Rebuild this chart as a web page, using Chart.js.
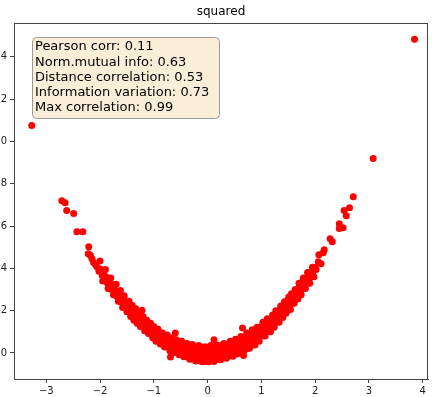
<!DOCTYPE html>
<html>
<head>
<meta charset="utf-8">
<script src="https://cdn.jsdelivr.net/npm/chart.js@4"></script>
<style>
    body { margin: 0; background: #fff; overflow: hidden; }
    #wrap { position: relative; width: 432px; height: 397px; overflow: hidden; }
    #chart { position: absolute; left: -20px; top: 0; }
</style>
</head>
<body>
<div id="wrap"><canvas id="chart" width="452" height="397"></canvas></div>
<script>
// squared: y ~ x^2 scatter

const chartTitle = 'squared';
const statLines = [
    'Pearson corr: 0.11',
    'Norm.mutual info: 0.63',
    'Distance correlation: 0.53',
    'Information variation: 0.73',
    'Max correlation: 0.99'
];
const xTicks = [-3, -2, -1, 0, 1, 2, 3, 4];
const yTicks = [0, 2, 4, 6, 8, 10, 12, 14];

// [x, y] pairs
const leftTail = [
    [-3.27, 10.76], [-2.71, 7.20], [-2.65, 7.10], [-2.62, 6.73], [-2.49, 6.59],
    [-2.43, 5.73], [-2.32, 5.73], [-2.21, 5.02], [-2.22, 4.69],
    [-2.18, 4.62], [-2.15, 4.45], [-2.12, 4.28], [-2.08, 4.15], [-2.05, 4.05], [-2.02, 3.86]
];

const leftArm = [
    [-1.98, 3.95], [-1.96, 3.66], [-1.93, 3.80], [-1.91, 3.45], [-1.88, 3.58], [-1.86, 3.30], [-1.83, 3.42], [-1.81, 3.10],
    [-1.79, 3.26], [-1.77, 2.98], [-1.75, 3.12], [-1.73, 2.80], [-1.71, 2.95], [-1.69, 2.68], [-1.67, 2.84], [-1.65, 2.55],
    [-1.63, 2.71], [-1.61, 2.42],
    [-1.59, 2.60], [-1.57, 2.30], [-1.56, 2.52], [-1.54, 2.20], [-1.52, 2.38], [-1.50, 2.10], [-1.49, 2.05], [-1.47, 2.28],
    [-1.45, 1.95], [-1.44, 2.12], [-1.42, 1.85], [-1.41, 2.05],
    [-1.39, 1.80], [-1.38, 1.98], [-1.36, 1.68], [-1.35, 1.90], [-1.33, 1.60], [-1.32, 1.82], [-1.30, 1.52], [-1.29, 1.75],
    [-1.27, 1.45], [-1.26, 1.68], [-1.24, 1.38], [-1.23, 1.60], [-1.22, 2.02], [-1.21, 1.30],
    [-1.19, 1.52], [-1.18, 1.22], [-1.16, 1.45], [-1.15, 1.15], [-1.14, 1.38], [-1.12, 1.08], [-1.11, 1.32], [-1.09, 1.02],
    [-1.08, 1.25], [-1.07, 0.95], [-1.05, 1.18], [-1.04, 0.88], [-1.03, 1.12], [-1.01, 0.82],
    [-0.99, 1.10], [-0.98, 0.78], [-0.97, 1.02], [-0.95, 0.70], [-0.94, 0.98], [-0.93, 0.62], [-0.91, 0.90], [-0.90, 0.58],
    [-0.89, 0.85], [-0.87, 0.55], [-0.86, 0.82], [-0.85, 0.50], [-0.83, 0.78], [-0.82, 0.45], [-0.81, 0.72]
];

const valley = [
    [-0.79, 0.40], [-0.78, 0.75], [-0.77, 0.35], [-0.76, 0.62], [-0.74, 0.30], [-0.73, 0.70], [-0.72, 0.48], [-0.71, 0.22],
    [-0.70, 0.58], [-0.69, -0.19], [-0.68, 0.30], [-0.67, 0.52], [-0.66, 0.18], [-0.65, 0.40], [-0.64, 0.62], [-0.63, 0.12],
    [-0.62, 0.32], [-0.61, 0.50], [-0.60, 0.95],
    [-0.59, 0.20], [-0.58, 0.45], [-0.57, 0.08], [-0.56, 0.30], [-0.55, 0.55], [-0.54, 0.02], [-0.53, 0.25], [-0.52, 0.45],
    [-0.51, -0.05], [-0.50, 0.15], [-0.49, 0.38], [-0.48, 0.00], [-0.47, 0.20], [-0.46, 0.42], [-0.45, -0.10], [-0.44, 0.12],
    [-0.43, 0.30], [-0.42, -0.02], [-0.41, 0.22],
    [-0.40, -0.15], [-0.39, 0.08], [-0.38, 0.32], [-0.37, -0.05], [-0.36, 0.18], [-0.35, -0.22], [-0.34, 0.02], [-0.33, 0.28],
    [-0.32, -0.12], [-0.31, 0.12], [-0.30, -0.28], [-0.29, 0.05], [-0.28, 0.25], [-0.27, -0.18], [-0.26, 0.00], [-0.25, 0.20],
    [-0.24, -0.30], [-0.23, -0.08], [-0.22, 0.15], [-0.21, -0.20],
    [-0.20, 0.05], [-0.19, -0.35], [-0.18, 0.22], [-0.17, -0.12], [-0.16, 0.02], [-0.15, -0.28], [-0.14, 0.15], [-0.13, -0.05],
    [-0.12, -0.38], [-0.11, 0.10], [-0.10, -0.20], [-0.09, 0.25], [-0.08, -0.02], [-0.07, -0.32], [-0.06, 0.08], [-0.05, -0.15],
    [-0.04, 0.18], [-0.03, -0.40], [-0.02, -0.08], [-0.01, 0.12],
    [0.00, -0.25], [0.01, 0.02], [0.02, 0.28], [0.03, -0.12], [0.04, -0.35], [0.05, 0.10], [0.06, -0.05], [0.07, 0.20],
    [0.08, -0.22], [0.09, 0.00], [0.10, -0.30], [0.11, 0.15], [0.12, 0.62], [0.13, -0.10], [0.14, 0.08], [0.15, -0.25],
    [0.16, 0.25], [0.17, -0.02], [0.18, -0.18], [0.19, 0.12],
    [0.20, -0.28], [0.21, 0.05], [0.22, 0.30], [0.23, -0.10], [0.24, 0.15], [0.25, -0.20], [0.26, 0.02], [0.27, 0.35],
    [0.28, -0.05], [0.29, -0.22], [0.30, 0.20], [0.31, 0.00], [0.32, -0.15], [0.33, 0.28], [0.34, 0.10], [0.35, -0.08],
    [0.36, 0.40], [0.37, -0.18], [0.38, 0.18], [0.39, 0.02],
    [0.40, 0.30], [0.41, -0.10], [0.42, 0.12], [0.43, 0.45], [0.44, -0.02], [0.45, 0.22], [0.46, -0.12], [0.47, 0.35],
    [0.48, 0.08], [0.49, 0.50], [0.50, 0.00], [0.51, 0.28], [0.52, 0.12], [0.53, 0.55], [0.54, -0.05], [0.55, 0.38],
    [0.56, 0.18], [0.57, 0.60], [0.58, 0.05], [0.59, 0.30],
    [0.60, 0.48], [0.61, 0.15], [0.62, 0.65], [0.63, 0.28], [0.64, 0.05], [0.65, 1.18], [0.66, 0.42], [0.67, -0.12],
    [0.68, 0.70], [0.69, 0.25], [0.70, 0.55], [0.71, 0.35], [0.72, 0.80], [0.73, 0.20], [0.74, 0.62], [0.75, 0.45],
    [0.76, 0.85], [0.77, 0.30], [0.78, 0.68], [0.79, 0.48]
];

const rightArm = [
    [0.80, 0.90], [0.81, 0.40], [0.82, 0.72], [0.83, 0.55], [0.84, 0.98], [0.85, 0.48], [0.86, 0.80], [0.87, 0.62],
    [0.88, 1.05], [0.89, 0.58], [0.90, 0.88], [0.91, 0.70], [0.93, 1.10], [0.94, 0.65], [0.95, 0.95], [0.97, 0.78],
    [0.98, 1.20], [0.99, 0.80],
    [1.00, 1.05], [1.01, 0.85], [1.02, 1.30], [1.04, 0.92], [1.05, 1.15], [1.06, 1.38], [1.08, 0.98], [1.09, 1.25],
    [1.10, 1.45], [1.12, 1.08], [1.13, 1.32], [1.15, 1.55], [1.16, 1.18], [1.18, 1.42], [1.19, 1.62],
    [1.20, 1.30], [1.22, 1.55], [1.23, 1.75], [1.25, 1.42], [1.26, 1.65], [1.28, 1.88], [1.29, 1.52], [1.31, 1.78],
    [1.32, 1.98], [1.34, 1.65], [1.35, 1.88], [1.37, 2.10], [1.38, 1.78], [1.39, 2.00],
    [1.41, 2.22], [1.42, 1.90], [1.44, 2.12], [1.45, 2.35], [1.47, 2.05], [1.48, 2.28], [1.50, 2.50], [1.52, 2.20],
    [1.53, 2.42], [1.55, 2.65], [1.57, 2.35], [1.58, 2.58],
    [1.60, 2.80], [1.62, 2.52], [1.64, 2.75], [1.65, 2.95], [1.67, 2.68], [1.69, 2.98], [1.71, 3.15], [1.73, 2.90],
    [1.75, 3.20], [1.77, 3.38],
    [1.79, 3.10], [1.81, 3.40], [1.83, 3.55], [1.85, 3.30], [1.87, 3.62], [1.89, 3.48], [1.91, 3.75], [1.93, 3.79],
    [1.96, 3.84], [2.00, 4.05], [2.02, 3.95]
];

// points sitting on the upper and lower edges of the band
const bandEdges = [
    [-2.00, 4.35], [-1.95, 3.40], [-1.90, 3.95], [-1.85, 3.05], [-1.80, 3.55], [-1.75, 2.75], [-1.70, 3.25], [-1.66, 2.45],
    [-1.62, 2.95], [-1.58, 2.15], [-1.55, 2.70], [-1.50, 1.95], [-1.46, 2.45], [-1.43, 1.72], [-1.40, 2.25], [-1.37, 1.55],
    [-1.34, 2.10], [-1.31, 1.40], [-1.28, 1.92], [-1.25, 1.25], [-1.20, 1.72], [-1.17, 1.05], [-1.13, 1.55], [-1.10, 0.92],
    [-1.06, 1.40], [-1.02, 0.72], [-1.00, 1.25], [-0.96, 0.55], [-0.92, 1.12], [-0.88, 0.42], [-0.84, 0.95], [-0.80, 0.28],
    [-0.75, 0.85], [-0.70, 0.10], [-0.66, 0.72], [-0.62, 0.02], [-0.58, 0.62], [-0.53, -0.08], [-0.48, 0.55], [-0.44, -0.18],
    [-0.38, 0.45], [-0.33, -0.30], [-0.28, 0.40], [-0.22, -0.38], [-0.16, 0.35], [-0.10, -0.42], [-0.05, 0.30], [0.02, -0.42],
    [0.06, 0.35], [0.12, -0.40], [0.18, 0.38], [0.24, -0.32], [0.30, 0.45], [0.35, -0.25], [0.42, 0.55], [0.47, -0.15],
    [0.52, 0.65], [0.57, -0.02], [0.62, 0.78], [0.68, 0.12], [0.73, 0.95], [0.78, 0.22], [0.83, 1.10], [0.88, 0.38],
    [0.92, 1.22], [0.96, 0.55], [1.03, 1.45], [1.07, 0.80], [1.11, 1.62], [1.17, 1.00], [1.21, 1.80], [1.24, 1.22],
    [1.27, 2.00], [1.33, 1.45], [1.36, 2.22], [1.40, 1.68], [1.43, 2.42], [1.46, 1.88], [1.51, 2.65], [1.54, 2.05],
    [1.56, 2.80], [1.61, 2.35], [1.63, 3.00], [1.68, 2.55], [1.70, 3.30], [1.74, 2.75], [1.78, 3.55], [1.82, 3.05],
    [1.86, 3.80], [1.90, 3.30], [1.95, 4.05], [1.98, 3.60]
];

const rightTail = [
    [2.06, 4.31], [2.11, 4.22], [2.07, 4.64], [2.15, 4.74], [2.17, 4.88], [2.28, 5.40], [2.32, 5.26], [2.45, 6.11],
    [2.52, 5.92], [2.45, 5.88], [2.54, 6.73], [2.58, 6.49], [2.64, 6.87], [2.71, 7.39], [3.08, 9.19], [3.85, 14.83]
];

const allPoints = [...leftTail, ...leftArm, ...valley, ...rightArm, ...bandEdges, ...rightTail]
    .map(p => ({ x: p[0], y: p[1] }));

const FONT = "'DejaVu Sans', sans-serif";
const AXIS_COLOR = '#444';

// title above the plot, box of statistics in the upper left, top/right spines
const decorations = {
    id: 'decorations',
    afterDraw(chart) {
        const { ctx, chartArea } = chart;
        ctx.save();

        ctx.strokeStyle = AXIS_COLOR;
        ctx.lineWidth = 1;
        ctx.strokeRect(chartArea.left + 0.5, chartArea.top + 0.5,
            chartArea.right - chartArea.left - 1, chartArea.bottom - chartArea.top);

        ctx.fillStyle = '#000';
        ctx.font = `12px ${FONT}`;
        ctx.textAlign = 'center';
        ctx.textBaseline = 'middle';
        ctx.fillText(chartTitle, (chartArea.left + chartArea.right) / 2, 12);

        const bx = chartArea.left + 18, by = chartArea.top + 14;
        const bw = 187, bh = 81;
        ctx.beginPath();
        ctx.roundRect(bx + 0.5, by + 0.5, bw, bh, 4);
        ctx.fillStyle = '#faeed9';
        ctx.fill();
        ctx.strokeStyle = '#9a9a9a';
        ctx.stroke();

        ctx.fillStyle = '#000';
        ctx.font = `13px ${FONT}`;
        ctx.textAlign = 'left';
        ctx.textBaseline = 'middle';
        statLines.forEach((line, i) => {
            ctx.fillText(line, bx + 3, by + 10 + i * 15.2);
        });
        ctx.restore();
    }
};

new Chart(document.getElementById('chart'), {
    type: 'scatter',
    data: {
        datasets: [{
            data: allPoints,
            backgroundColor: 'red',
            borderWidth: 0,
            pointRadius: 3.5,
            pointHoverRadius: 3.5
        }]
    },
    options: {
        responsive: false,
        animation: false,
        layout: { padding: { top: 23, right: 4, left: 0, bottom: 0 } },
        plugins: {
            legend: { display: false },
            tooltip: { enabled: false }
        },
        scales: {
            x: {
                type: 'linear',
                min: -3.6,
                max: 4.1,
                afterFit: scale => { scale.height = 18; },
                afterBuildTicks: scale => { scale.ticks = xTicks.map(v => ({ value: v })); },
                grid: { drawOnChartArea: false, drawTicks: true, tickLength: 4, color: AXIS_COLOR },
                border: { display: true, color: AXIS_COLOR },
                ticks: {
                    padding: 2,
                    color: '#222',
                    font: { family: FONT, size: 10 },
                    maxRotation: 0,
                    callback: v => String(v).replace('-', '\u2212')
                }
            },
            y: {
                type: 'linear',
                min: -1.23,
                max: 15.6,
                afterFit: scale => { scale.width = 34; },
                afterBuildTicks: scale => { scale.ticks = yTicks.map(v => ({ value: v })); },
                grid: { drawOnChartArea: false, drawTicks: true, tickLength: 4, color: AXIS_COLOR },
                border: { display: true, color: AXIS_COLOR },
                ticks: {
                    padding: 3,
                    color: '#222',
                    font: { family: FONT, size: 10 },
                    callback: v => String(v)
                }
            }
        }
    },
    plugins: [decorations]
});
</script>
</body>
</html>
